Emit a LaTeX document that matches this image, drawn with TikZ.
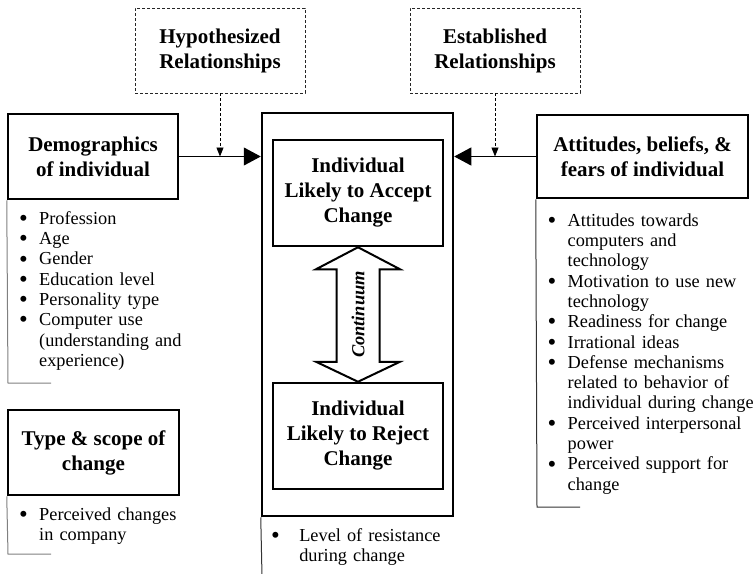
\documentclass[tikz,border=0pt]{standalone}
\usepackage{fontspec}
\setmainfont{Liberation Serif}
\usetikzlibrary{arrows.meta,calc}
\newcommand\bl[1][19pt]{\makebox[#1][l]{\hspace*{-1pt}\smash{\raisebox{-2.2pt}{\scalebox{1.36}{\textbullet}}}}}
\newcommand\ind[1][19pt]{\hspace*{#1}}
\newcommand\fs{\rule{0pt}{15pt}}
\begin{document}
\begin{tikzpicture}[x=1pt,y=-1pt,
  hdr/.style={draw, line width=2.5pt, align=center, inner sep=0pt,
    font=\fontsize{21}{25}\selectfont\bfseries},
  rel/.style={draw=black!85, dash pattern=on 3pt off 2pt, line width=0.9pt,
    align=center, inner sep=0pt, minimum width=170pt, minimum height=85pt,
    font=\fontsize{21}{25}\selectfont\bfseries},
  lst/.style={anchor=north west, inner sep=0pt, text width=230pt, align=left,
    font=\fontsize{18.3}{20.3}\selectfont},
  bigarr/.style={-{Triangle[length=17pt,width=18pt]}, line width=1pt},
  smallarr/.style={-{Triangle[length=9pt,width=7pt]}, dash pattern=on 3pt off 2pt, line width=0.9pt},
  brk/.style={line width=1pt},
]
\useasboundingbox (0,0) rectangle (755,573);

% header boxes
\node[rel] (hyp) at (220,50.5) {Hypothesized\\Relationships};
\node[rel] (est) at (495,50.5) {Established\\Relationships};
\node[hdr, minimum width=170pt, minimum height=85pt] (demo) at (93,156.5) {Demographics\\of individual};
\node[hdr, minimum width=211pt, minimum height=83pt] (att) at (642.5,156.5) {Attitudes, beliefs, \&\\fears of individual};
\node[hdr, minimum width=171pt, minimum height=85pt] (type) at (93.5,452.5) {Type \& scope of\\change};

% central
\node[draw, line width=2.5pt, minimum width=191pt, minimum height=403pt, inner sep=0pt] (outer) at (357.5,314.5) {};
\node[hdr, minimum width=170pt, minimum height=106pt] (acc) at (358,193) {Individual\\Likely to Accept\\Change};
\node[hdr, minimum width=170pt, minimum height=106pt] (rej) at (358,436) {Individual\\Likely to Reject\\Change};

% continuum double arrow
\coordinate (tT) at (acc.south);
\coordinate (tB) at (rej.north);
\draw[line width=2pt, fill=white]
  (tT) -- ($(tT)+(42,22)$) -- ($(tT)+(21.5,22)$) -- ($(tB)+(21.5,-20)$) -- ($(tB)+(42,-20)$)
  -- (tB) -- ($(tB)+(-42,-20)$) -- ($(tB)+(-21.5,-20)$) -- ($(tT)+(-21.5,22)$) -- ($(tT)+(-42,22)$) -- cycle;
\node[rotate=90, inner sep=0pt, font=\fontsize{18.4}{20}\selectfont\bfseries\itshape] (cont) at ($(tT)!0.5!(tB)$) {Continuum};

% connectors
\draw[bigarr] (demo.east) -- (demo.east -| outer.west);
\draw[bigarr] (att.west) -- (att.west -| outer.east);
\draw[smallarr] (hyp.south) -- (hyp.south |- demo.east);
\draw[smallarr] (est.south) -- (est.south |- att.west);

% brackets
\coordinate (dB) at (8,383);
\coordinate (dE) at (51,383);
\draw[brk, draw=gray] (demo.south west) -- (dB) -- (dE);
\coordinate (tyB) at (8,554);
\coordinate (tyE) at (51,554);
\draw[brk, draw=gray] (type.south west) -- (tyB) -- (tyE);
\coordinate (aB) at (537,507);
\coordinate (aE) at (580,507);
\draw[brk, draw=black!80] (att.south west) -- (aB) -- (aE);
\coordinate (oB) at (262,576);
\draw[brk, draw=black!80] (outer.south west) -- (oB);

% lists
\node[lst] (dl) at (20,209) {\fs\bl Profession\\
\bl Age\\
\bl Gender\\
\bl Education level\\
\bl Personality type\\
\bl Computer use\\
\ind (understanding and\\
\ind experience)};
\node[lst] (tl) at (20,505) {\fs\bl Perceived changes\\
\ind in company};
\node[lst] (al) at (548.5,211) {\fs\bl Attitudes towards\\
\ind computers and\\
\ind technology\\
\bl Motivation to use new\\
\ind technology\\
\bl Readiness for change\\
\bl Irrational ideas\\
\bl Defense mechanisms\\
\ind related to behavior of\\
\ind individual during change\\
\bl Perceived interpersonal\\
\ind power\\
\bl Perceived support for\\
\ind change};
\node[lst] (cl) at (272,526) {\fs\bl[21pt] Level of resistance\\
\ind[21pt] during change};
\end{tikzpicture}
\end{document}
